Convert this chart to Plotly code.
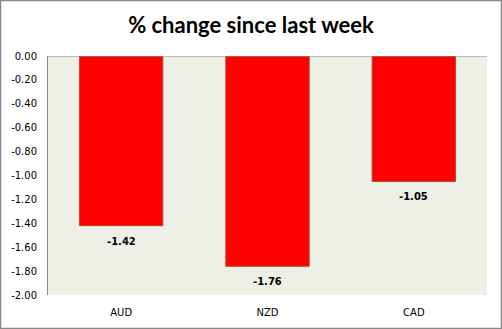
import plotly.graph_objects as go

# Weekly percentage change by currency
currencies = ["AUD", "NZD", "CAD"]
pct_change = [-1.42, -1.76, -1.05]
tick_vals = [0.0, -0.2, -0.4, -0.6, -0.8, -1.0, -1.2, -1.4, -1.6, -1.8, -2.0]
tick_text = ["0.00", "-0.20", "-0.40", "-0.60", "-0.80", "-1.00",
             "-1.20", "-1.40", "-1.60", "-1.80", "-2.00"]

W, H = 502, 329
ml, mr, mt, mb = 48, 15, 56, 34
pw, ph = W - ml - mr, H - mt - mb

fig = go.Figure(
    go.Bar(
        x=currencies,
        y=pct_change,
        marker=dict(color="#ff0000", line=dict(color="#b0502a", width=1)),
    )
)

# value labels below each bar
for cur, val in zip(currencies, pct_change):
    fig.add_annotation(
        x=cur, y=val, text=f"<b>{val:.2f}</b>", showarrow=False,
        yanchor="top", yshift=-8,
        font=dict(family="DejaVu Sans", size=10, color="#000000"),
    )

fig.update_layout(
    width=W,
    height=H,
    margin=dict(l=ml, r=mr, t=mt, b=mb),
    paper_bgcolor="#ffffff",
    plot_bgcolor="#eef0e8",
    bargap=0.43,
    showlegend=False,
    title=dict(
        text="<b>% change since last week</b>",
        x=0.5,
        xanchor="center",
        y=1 - 25 / H,
        yanchor="middle",
        font=dict(family="Lato", size=22, color="#000000"),
    ),
    xaxis=dict(
        showgrid=False,
        showline=False,
        zeroline=False,
        ticks="",
        ticklabelstandoff=10,
        tickfont=dict(family="DejaVu Sans", size=10, color="#000000"),
    ),
    yaxis=dict(
        range=[-2.0, 0.0],
        tickvals=tick_vals,
        ticktext=tick_text,
        showgrid=False,
        zeroline=False,
        showline=True,
        linecolor="#888888",
        linewidth=1,
        ticks="",
        ticklabelstandoff=8,
        tickfont=dict(family="DejaVu Sans", size=10, color="#000000"),
    ),
    shapes=[
        # zero baseline across the top of the plot area
        dict(type="line", xref="paper", yref="y", x0=0, x1=1, y0=0, y1=0,
             line=dict(color="#888888", width=1)),
        # outer chart border
        dict(type="rect", xref="paper", yref="paper",
             x0=(0.5 - ml) / pw, x1=(W - 0.5 - ml) / pw,
             y0=-(mb - 0.5) / ph, y1=(H - mb - 0.5) / ph,
             line=dict(color="#888888", width=1.5), layer="above"),
    ],
)

fig.write_html("out.html")
